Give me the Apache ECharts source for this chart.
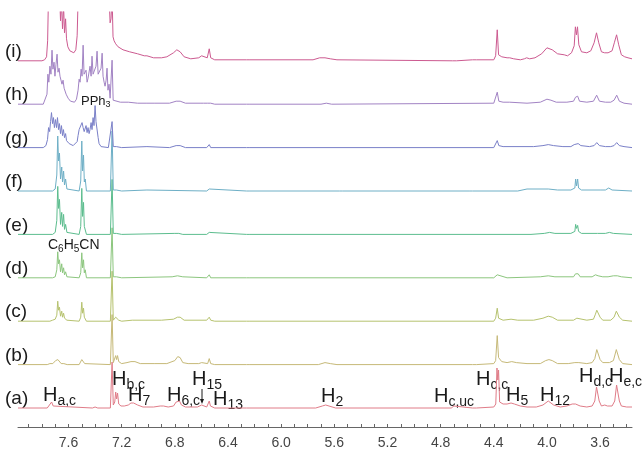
<!DOCTYPE html>
<html>
<head>
<meta charset="utf-8">
<script src="https://cdn.jsdelivr.net/npm/echarts@6/dist/echarts.min.js"></script>
<style>
html, body { margin: 0; padding: 0; background: #fff; }
#main { width: 644px; height: 450px; }
</style>
</head>
<body>
<div id="main"></div>
<script>
// trace names, bottom to top
var traceNames = ['(a)', '(b)', '(c)', '(d)', '(e)', '(f)', '(g)', '(h)', '(i)'];

// ppm axis
var tickValues = [3.4, 3.5, 3.6, 3.7, 3.8, 3.9, 4.0, 4.1, 4.2, 4.3, 4.4, 4.5, 4.6, 4.7, 4.8, 4.9, 5.0,
    5.1, 5.2, 5.3, 5.4, 5.5, 5.6, 5.7, 5.8, 5.9, 6.0, 6.1, 6.2, 6.3, 6.4, 6.5, 6.6, 6.7, 6.8, 6.9, 7.0,
    7.1, 7.2, 7.3, 7.4, 7.5, 7.6, 7.7, 7.8, 7.9];
var labelValues = [3.6, 4.0, 4.4, 4.8, 5.2, 5.6, 6.0, 6.4, 6.8, 7.2, 7.6];

// spectra: [ppm, intensity above own baseline]
var specA = [[7.98,0],[7.76,0],[7.745,1],[7.727,6],[7.715,2],[7.70,0],
    [7.42,0],[7.40,1],[7.38,0],
    [7.285,0],[7.272,46],[7.263,3],[7.252,6],[7.245,16],[7.238,9],[7.231,15],[7.222,4],[7.205,2],[7.18,2],[7.15,3],[7.13,5],[7.11,5],[7.08,3],[7.04,1],[7.01,1],[6.96,1],[6.91,2],[6.885,2],[6.85,1],[6.81,2],[6.79,6],[6.778,8],[6.765,7],[6.75,3],[6.72,1],[6.63,1],[6.598,3],[6.588,1],[6.56,1],[6.548,3],[6.541,7],[6.532,2],[6.50,0],
    [6.26,0],[6.247,1],[6.235,0],
    [5.74,0],[5.69,2],[5.665,3],[5.64,2],[5.59,0],
    [4.72,0],[4.70,2],[4.685,0],[4.56,0],[4.545,1],[4.53,0],
    [4.40,1],[4.385,4],[4.376,40],[4.370,28],[4.364,38],[4.356,6],[4.33,4],[4.30,4],[4.27,5],[4.245,4],[4.20,2],[4.15,1],[4.08,1],[4.03,3],[3.99,7],[3.975,7],[3.95,3],[3.90,1],[3.85,2],[3.81,4],[3.785,4],[3.75,2],[3.70,1],[3.66,2],[3.64,7],[3.627,21],[3.617,22],[3.607,7],[3.59,2],[3.565,3],[3.545,2],[3.51,2],[3.49,7],[3.476,23],[3.466,22],[3.455,7],[3.44,2],[3.40,1],[3.36,1]];

var specB = [[7.98,0],[7.76,0],[7.74,1],[7.727,3],[7.718,1],[7.705,3],[7.697,4],[7.69,2],[7.68,5],[7.672,3],[7.665,4],[7.655,1],[7.645,2],[7.635,1],[7.625,2],[7.61,0],
    [7.52,0],[7.507,2],[7.50,5],[7.493,3],[7.488,4],[7.478,1],[7.465,0],
    [7.285,0],[7.272,50],[7.263,2],[7.252,4],[7.245,9],[7.238,5],[7.231,9],[7.222,3],[7.20,1],[7.16,2],[7.13,3],[7.10,3],[7.06,1],[6.95,1],[6.86,1],[6.80,4],[6.778,8],[6.76,7],[6.74,2],[6.70,1],[6.62,1],[6.598,2],[6.585,1],[6.553,1],[6.541,6],[6.53,1],[6.50,0],
    [6.26,0],[6.247,1],[6.235,0],
    [5.72,0],[5.67,2],[5.63,1],[5.58,0],
    [4.56,0],[4.545,1],[4.53,0],
    [4.40,1],[4.386,4],[4.374,29],[4.364,7],[4.34,3],[4.30,2],[4.265,3],[4.23,2],[4.15,1],[4.05,1],[4.01,4],[3.985,5],[3.96,4],[3.92,1],[3.84,1],[3.79,2],[3.76,2],[3.70,1],[3.66,2],[3.64,6],[3.625,15],[3.612,14],[3.60,5],[3.58,2],[3.53,2],[3.50,4],[3.478,15],[3.466,14],[3.455,5],[3.43,1],[3.36,0]];

var specC = [[7.98,0],[7.74,0],[7.72,1],[7.70,2],[7.688,6],[7.681,20],[7.675,11],[7.668,14],[7.66,5],[7.651,10],[7.645,4],[7.637,8],[7.63,3],[7.622,4],[7.612,1],[7.60,0],
    [7.52,0],[7.508,4],[7.50,19],[7.494,8],[7.487,13],[7.481,4],[7.474,5],[7.465,0],
    [7.285,0],[7.272,50],[7.263,1],[7.252,2],[7.245,4],[7.238,2],[7.231,4],[7.222,1],[7.20,0],[7.12,1],[6.90,1],[6.81,2],[6.78,4],[6.76,4],[6.73,1],[6.56,1],[6.541,4],[6.53,1],[6.50,0],
    [6.26,0],[6.247,1],[6.235,0],
    [4.40,0],[4.386,3],[4.374,13],[4.364,3],[4.33,1],[4.27,2],[4.22,1],[4.10,1],[4.03,3],[3.99,5],[3.96,4],[3.92,1],[3.80,1],[3.775,3],[3.76,1],[3.70,1],[3.65,2],[3.635,7],[3.625,11],[3.613,10],[3.60,4],[3.58,1],[3.52,1],[3.495,4],[3.478,10],[3.466,9],[3.455,4],[3.43,1],[3.36,0]];

var specD = [[7.98,0],[7.72,0],[7.70,1],[7.688,8],[7.681,26],[7.675,14],[7.668,18],[7.66,6],[7.651,14],[7.645,5],[7.637,10],[7.63,3],[7.622,6],[7.612,1],[7.60,0],
    [7.52,0],[7.508,5],[7.50,25],[7.494,10],[7.487,18],[7.481,5],[7.474,8],[7.465,0],
    [7.285,0],[7.272,50],[7.263,1],[7.24,1],[7.20,0],[6.82,1],[6.78,2],[6.74,1],[6.56,0],[6.541,3],[6.53,0],
    [6.26,0],[6.247,1],[6.235,0],
    [4.40,0],[4.385,1],[4.374,3],[4.364,1],[4.30,0],[4.05,1],[3.99,2],[3.94,1],[3.80,1],[3.785,4],[3.775,3],[3.765,4],[3.75,1],[3.66,1],[3.635,3],[3.615,2],[3.58,1],[3.54,1],[3.50,2],[3.47,2],[3.44,1],[3.36,0]];

var specE = [[7.98,0],[7.72,0],[7.70,2],[7.688,14],[7.681,48],[7.675,26],[7.668,35],[7.66,10],[7.651,22],[7.645,8],[7.637,20],[7.63,5],[7.622,10],[7.612,2],[7.60,0],
    [7.52,0],[7.508,8],[7.50,46],[7.494,18],[7.487,32],[7.481,8],[7.474,10],[7.465,0],
    [7.285,0],[7.272,55],[7.263,1],[7.24,1],[7.20,0],[6.80,1],[6.77,1],[6.74,0],[6.56,0],[6.541,2],[6.53,0],
    [6.26,0],[6.247,1],[6.235,0],
    [4.12,0],[4.02,1],[3.98,2],[3.94,1],[3.82,1],[3.79,3],[3.784,10],[3.777,6],[3.769,9],[3.762,3],[3.74,1],[3.62,1],[3.56,1],[3.53,2],[3.50,1],[3.36,0]];

var specF = [[7.98,0],[7.72,0],[7.70,2],[7.688,16],[7.681,55],[7.675,30],[7.668,38],[7.66,12],[7.651,24],[7.645,9],[7.637,20],[7.63,6],[7.622,12],[7.612,2],[7.60,0],
    [7.52,0],[7.508,10],[7.50,50],[7.494,20],[7.487,36],[7.481,9],[7.474,12],[7.465,0],
    [7.285,0],[7.272,60],[7.263,1],[7.24,1],[7.20,0],[7.01,1],[7.00,0],[6.56,0],[6.541,2],[6.53,0],
    [6.26,0],[6.247,1],[6.235,0],
    [5.56,0],[5.55,1],[5.54,0],[4.58,0],[4.57,1],[4.56,0],
    [4.22,0],[4.15,2],[4.06,2],[3.99,2],[3.92,1],[3.82,1],[3.79,3],[3.784,12],[3.777,5],[3.769,12],[3.762,3],[3.74,1],[3.60,1],[3.56,1],[3.535,3],[3.51,1],[3.36,0]];

var specG = [[7.98,0],[7.79,0],[7.77,2],[7.758,8],[7.75,20],[7.742,16],[7.735,26],[7.728,35],[7.72,24],[7.713,30],[7.706,20],[7.698,28],[7.69,20],[7.683,30],[7.675,18],[7.668,24],[7.66,14],[7.653,22],[7.645,12],[7.638,18],[7.63,10],[7.622,14],[7.615,7],[7.607,8],[7.595,4],[7.58,2],[7.565,2],[7.55,3],[7.535,6],[7.528,12],[7.52,18],[7.51,16],[7.498,25],[7.49,20],[7.482,16],[7.475,18],[7.468,22],[7.46,15],[7.453,20],[7.445,14],[7.438,18],[7.43,25],[7.423,18],[7.415,30],[7.408,22],[7.40,42],[7.393,26],[7.385,28],[7.377,10],[7.37,4],[7.355,1],[7.30,0],
    [7.285,0],[7.272,26],[7.263,1],[7.24,1],[7.20,0],[7.01,1],[7.00,0],[6.84,0],[6.79,2],[6.76,2],[6.72,0],[6.56,0],[6.541,3],[6.53,0],
    [6.26,0],[6.247,1],[6.235,0],
    [4.40,0],[4.385,2],[4.374,7],[4.362,2],[4.33,1],[4.10,1],[4.03,2],[3.99,3],[3.95,2],[3.88,1],[3.82,1],[3.795,3],[3.78,4],[3.765,4],[3.745,2],[3.68,1],[3.645,2],[3.625,5],[3.605,2],[3.56,1],[3.52,1],[3.495,2],[3.475,5],[3.455,2],[3.42,1],[3.36,0]];

var specH = [[7.98,0],[7.79,0],[7.775,2],[7.762,10],[7.755,30],[7.748,22],[7.74,38],[7.732,30],[7.724,54],[7.717,35],[7.709,42],[7.702,28],[7.694,40],[7.686,50],[7.679,32],[7.671,36],[7.664,28],[7.656,30],[7.649,20],[7.641,24],[7.633,16],[7.626,18],[7.618,10],[7.611,12],[7.603,6],[7.596,8],[7.585,3],[7.573,2],[7.555,2],[7.54,5],[7.528,14],[7.52,25],[7.513,22],[7.505,35],[7.498,28],[7.49,59],[7.483,30],[7.475,28],[7.468,34],[7.46,22],[7.453,26],[7.445,25],[7.438,38],[7.43,28],[7.423,48],[7.415,30],[7.408,32],[7.40,28],[7.393,38],[7.385,53],[7.377,30],[7.37,32],[7.362,28],[7.355,36],[7.347,51],[7.34,28],[7.332,22],[7.325,18],[7.317,24],[7.31,36],[7.303,14],[7.295,20],[7.287,6],[7.28,4],[7.272,44],[7.264,4],[7.25,3],[7.21,2],[7.15,2],[7.08,1],[7.01,1],[6.95,1],[6.84,1],[6.79,3],[6.76,3],[6.72,1],[6.61,1],[6.598,2],[6.585,1],[6.556,1],[6.541,3],[6.53,1],[6.50,0],
    [6.26,0],[6.247,1],[6.235,0],[5.70,0],[5.66,1],[5.62,0],
    [4.40,1],[4.386,3],[4.374,12],[4.362,3],[4.33,2],[4.28,2],[4.27,1],[4.15,1],[4.05,2],[4.00,5],[3.97,4],[3.93,2],[3.85,2],[3.80,3],[3.785,7],[3.777,6],[3.769,8],[3.755,3],[3.70,2],[3.65,3],[3.626,9],[3.605,3],[3.56,2],[3.52,2],[3.495,4],[3.475,9],[3.455,3],[3.42,1],[3.36,0]];

var specI = [[7.98,0],[7.80,0],[7.78,1],[7.765,4],[7.757,20],[7.75,70],[7.72,85],[7.69,80],[7.668,70],[7.66,40],[7.653,60],[7.645,32],[7.637,55],[7.63,28],[7.622,42],[7.615,22],[7.605,14],[7.59,10],[7.575,8],[7.56,8],[7.545,11],[7.535,25],[7.528,60],[7.52,80],[7.45,90],[7.35,90],[7.30,80],[7.292,55],[7.287,38],[7.28,42],[7.272,65],[7.265,24],[7.257,20],[7.245,17],[7.227,14],[7.19,11],[7.14,9],[7.08,7],[7.03,5],[7.01,5],[7.0,4],[6.96,3],[6.90,3],[6.86,4],[6.81,8],[6.785,11],[6.76,9],[6.73,4],[6.68,2],[6.62,3],[6.598,5],[6.585,3],[6.556,3],[6.541,12],[6.53,3],[6.50,1],
    [6.26,1],[6.247,2],[6.235,1],[5.76,1],[5.71,3],[5.67,3],[5.63,2],[5.58,1],
    [4.71,0],[4.696,1],[4.68,0],[4.56,1],[4.545,2],[4.53,1],[4.40,1],[4.386,5],[4.374,31],[4.364,6],[4.34,4],[4.30,3],[4.28,3],[4.25,2],[4.20,1],[4.17,2],[4.153,3],[4.13,2],[4.09,3],[4.04,7],[4.00,13],[3.985,14],[3.96,11],[3.92,7],[3.87,6],[3.845,5],[3.815,8],[3.795,15],[3.786,34],[3.778,26],[3.77,34],[3.76,16],[3.74,9],[3.70,8],[3.67,10],[3.645,18],[3.627,28],[3.61,18],[3.59,9],[3.566,8],[3.54,8],[3.51,10],[3.493,18],[3.476,26],[3.46,16],[3.44,6],[3.415,4],[3.39,3],[3.36,2]];

var spectra = [specA, specB, specC, specD, specE, specF, specG, specH, specI];
var colors = ['#e07c88', '#c6b978', '#b6c26e', '#8cc67e', '#5cbd8e', '#6eafc6', '#7a80c8', '#a283c4', '#cc5a90'];

var W = 644, H = 450;
var gridTop = 12, gridBottom = 23, gridLeft = 18, gridRight = 12;
var plotH = H - gridTop - gridBottom;
var firstBase = 19, gap = 43.4;
var axisY = H - gridBottom;
var fontFam = '"Liberation Sans", Arial, sans-serif';

var chart = echarts.init(document.getElementById('main'));

var series = spectra.map(function (spec, i) {
    var off = firstBase + i * gap;
    return {
        type: 'line',
        name: traceNames[i],
        data: spec.map(function (p) { return [p[0], p[1] + off]; }),
        showSymbol: false,
        clip: true,
        silent: true,
        lineStyle: { color: colors[i], width: 1 }
    };
});

// text helpers
var ctx = document.createElement('canvas').getContext('2d');
function textW(t, size) {
    ctx.font = size + 'px ' + fontFam;
    return ctx.measureText(t).width;
}
function txt(t, x, y, size) {
    return {
        type: 'text', x: x, y: y, silent: true,
        style: {
            text: t, fill: '#1a1a1a', font: size + 'px ' + fontFam,
            textAlign: 'left', textVerticalAlign: 'middle', align: 'left', verticalAlign: 'middle'
        }
    };
}
// segments: [text, isSub]
function formula(segs, x, y, size, subSize, subDy) {
    var out = [], cx = x;
    segs.forEach(function (s) {
        var sz = s[1] ? subSize : size;
        out.push(txt(s[0], cx, s[1] ? y + subDy : y, sz));
        cx += textW(s[0], sz);
    });
    return out;
}

var graphics = [];
traceNames.forEach(function (n, i) {
    graphics.push(txt(n, 5, axisY - (firstBase + i * gap) - 9, 19));
});

var peakLabels = [
    { sub: 'a,c', x: 43, y: 395 },
    { sub: 'b,c', x: 112, y: 379 },
    { sub: '7', x: 128, y: 395 },
    { sub: '6,c', x: 167, y: 395 },
    { sub: '15', x: 192, y: 379 },
    { sub: '13', x: 213, y: 399 },
    { sub: '2', x: 321, y: 396 },
    { sub: 'c,uc', x: 434, y: 396 },
    { sub: 'c,c', x: 476, y: 379 },
    { sub: '5', x: 506, y: 395 },
    { sub: '12', x: 540, y: 395 },
    { sub: 'd,c', x: 579, y: 376 },
    { sub: 'e,c', x: 609, y: 376 }
];
peakLabels.forEach(function (l) {
    graphics = graphics.concat(formula([['H', false], [l.sub, true]], l.x, l.y, 20, 14, 6));
});
graphics = graphics.concat(formula([['C', false], ['6', true], ['H', false], ['5', true], ['CN', false]], 48, 245, 14, 10, 4));
graphics = graphics.concat(formula([['PPh', false], ['3', true]], 81, 101, 13, 9, 4));

// arrow for H15
graphics.push({ type: 'line', silent: true, shape: { x1: 202, y1: 389, x2: 202, y2: 400 }, style: { stroke: '#1a1a1a', lineWidth: 1 } });
graphics.push({ type: 'polygon', silent: true, shape: { points: [[200, 399], [204, 399], [202, 404]] }, style: { fill: '#1a1a1a' } });

var option = {
    animation: false,
    backgroundColor: '#fff',
    grid: { left: gridLeft, right: gridRight, top: gridTop, bottom: gridBottom, containLabel: false },
    xAxis: {
        type: 'value',
        inverse: true,
        min: 3.36,
        max: 7.98,
        axisLine: { show: true, lineStyle: { color: '#666', width: 1 } },
        axisTick: { show: true, inside: true, length: 3, customValues: tickValues, lineStyle: { color: '#666' } },
        axisLabel: {
            customValues: labelValues, margin: 9, fontSize: 14, color: '#444', fontFamily: fontFam,
            formatter: function (v) { return v.toFixed(1); }
        },
        splitLine: { show: false }
    },
    yAxis: { type: 'value', min: 0, max: plotH, show: false },
    series: series,
    graphic: graphics
};
chart.setOption(option);
</script>
</body>
</html>
